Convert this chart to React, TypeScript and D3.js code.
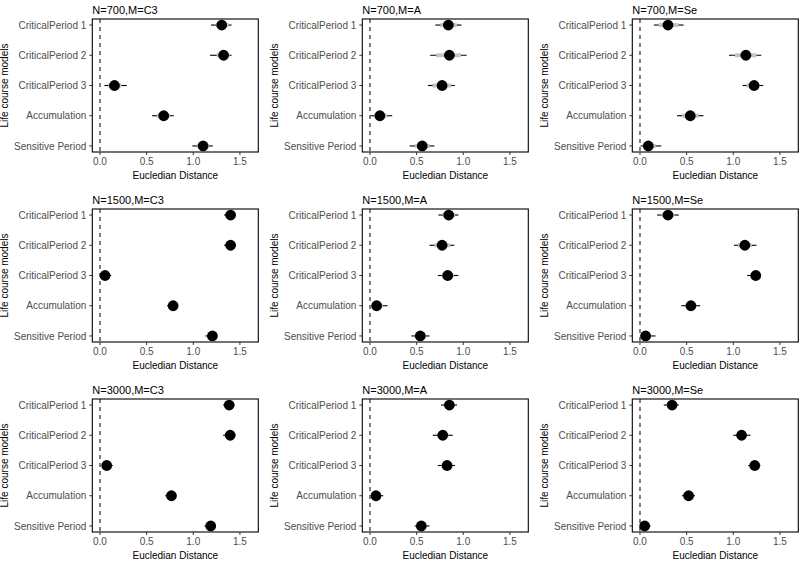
import React from "react";
import * as d3 from "d3";

const models = ["CriticalPeriod 1", "CriticalPeriod 2", "CriticalPeriod 3", "Accumulation", "Sensitive Period"];
const sampleSizes = ["700", "1500", "3000"];
const methods = ["C3", "A", "Se"];
const xTicks = [0, 0.5, 1.0, 1.5];

// each row: [estimate, outer low, outer high, inner low, inner high]
const n700_C3 = [
  [1.305, 1.19, 1.41, 1.24, 1.38],
  [1.325, 1.18, 1.41, 1.25, 1.39],
  [0.155, 0.047, 0.288, 0.09, 0.23],
  [0.683, 0.558, 0.79, 0.61, 0.75],
  [1.105, 0.99, 1.21, 1.04, 1.17],
];
const n700_A = [
  [0.84, 0.7, 0.98, 0.755, 0.93],
  [0.851, 0.645, 1.035, 0.71, 0.975],
  [0.773, 0.62, 0.91, 0.67, 0.87],
  [0.106, 0.007, 0.238, 0.046, 0.188],
  [0.56, 0.425, 0.69, 0.48, 0.64],
];
const n700_Se = [
  [0.3, 0.149, 0.468, 0.2, 0.415],
  [1.135, 0.954, 1.3, 1.017, 1.248],
  [1.223, 1.1, 1.32, 1.14, 1.28],
  [0.539, 0.397, 0.68, 0.45, 0.63],
  [0.089, 0.007, 0.227, 0.035, 0.167],
];
const n1500_C3 = [
  [1.4, 1.33, 1.44, 1.37, 1.43],
  [1.4, 1.33, 1.44, 1.37, 1.43],
  [0.054, 0.0, 0.12, 0.03, 0.09],
  [0.784, 0.72, 0.83, 0.75, 0.81],
  [1.205, 1.13, 1.25, 1.17, 1.23],
];
const n1500_A = [
  [0.844, 0.734, 0.947, 0.78, 0.91],
  [0.773, 0.638, 0.904, 0.69, 0.86],
  [0.833, 0.727, 0.947, 0.77, 0.9],
  [0.071, 0.018, 0.188, 0.04, 0.14],
  [0.539, 0.443, 0.638, 0.48, 0.6],
];
const n1500_Se = [
  [0.3, 0.184, 0.415, 0.23, 0.37],
  [1.124, 1.007, 1.248, 1.05, 1.2],
  [1.241, 1.149, 1.29, 1.19, 1.27],
  [0.546, 0.443, 0.645, 0.49, 0.6],
  [0.06, 0.007, 0.167, 0.03, 0.12],
];
const n3000_C3 = [
  [1.385, 1.32, 1.44, 1.35, 1.42],
  [1.396, 1.32, 1.44, 1.36, 1.43],
  [0.072, 0.018, 0.137, 0.04, 0.1],
  [0.766, 0.7, 0.817, 0.73, 0.8],
  [1.187, 1.12, 1.24, 1.15, 1.22],
];
const n3000_A = [
  [0.851, 0.762, 0.933, 0.8, 0.9],
  [0.78, 0.674, 0.887, 0.72, 0.84],
  [0.826, 0.727, 0.911, 0.77, 0.88],
  [0.064, 0.01, 0.142, 0.03, 0.1],
  [0.55, 0.479, 0.638, 0.51, 0.6],
];
const n3000_Se = [
  [0.344, 0.255, 0.415, 0.29, 0.39],
  [1.089, 1.0, 1.184, 1.04, 1.14],
  [1.23, 1.16, 1.29, 1.19, 1.27],
  [0.521, 0.45, 0.59, 0.48, 0.56],
  [0.05, 0.007, 0.113, 0.02, 0.08],
];

const panelData = [
  [n700_C3, n700_A, n700_Se],
  [n1500_C3, n1500_A, n1500_Se],
  [n3000_C3, n3000_A, n3000_Se],
];

const FONT = "'Liberation Sans', Arial, Helvetica, sans-serif";
const PANEL_W = 270;
const PANEL_H = 190;
const BOX = { left: 92.3, right: 258.3, top: 19, bottom: 152 };

const x = d3.scaleLinear().domain([-0.0825, 1.697]).range([BOX.left, BOX.right]);
const y = d3.scaleLinear().domain([0.8, 5.2]).range([BOX.bottom, BOX.top]);
const fmt = d3.format(".1f");

function Panel({ data, title, ox, oy }: { data: number[][]; title: string; ox: number; oy: number }) {
  const midX = (BOX.left + BOX.right) / 2;
  const midY = (BOX.top + BOX.bottom) / 2;
  return (
    <g transform={`translate(${ox},${oy})`}>
      <text x={BOX.left} y={14} fontSize={11} fill="#000" fontFamily={FONT}>
        {title}
      </text>
      <line x1={x(0)} x2={x(0)} y1={BOX.top} y2={BOX.bottom} stroke="#000" strokeWidth={1} strokeDasharray="4,4" />
      {data.map((d, i) => {
        const yy = y(models.length - i);
        return (
          <g key={i}>
            <line x1={x(d[1])} x2={x(d[2])} y1={yy} y2={yy} stroke="#000" strokeWidth={1.1} />
            <line x1={x(d[3])} x2={x(d[4])} y1={yy} y2={yy} stroke="#c4c4c4" strokeWidth={4} />
            <circle cx={x(d[0])} cy={yy} r={5.4} fill="#000" />
          </g>
        );
      })}
      <rect
        x={BOX.left}
        y={BOX.top}
        width={BOX.right - BOX.left}
        height={BOX.bottom - BOX.top}
        fill="none"
        stroke="#000"
        strokeWidth={1.1}
      />
      {xTicks.map((t) => (
        <g key={t}>
          <line x1={x(t)} x2={x(t)} y1={BOX.bottom} y2={BOX.bottom + 3} stroke="#333" strokeWidth={1} />
          <text x={x(t)} y={BOX.bottom + 13} fontSize={10} textAnchor="middle" fill="#4d4d4d" fontFamily={FONT}>
            {fmt(t)}
          </text>
        </g>
      ))}
      <text x={midX} y={BOX.bottom + 27} fontSize={10} textAnchor="middle" fill="#000" fontFamily={FONT}>
        Eucledian Distance
      </text>
      {models.map((m, i) => {
        const yy = y(models.length - i);
        return (
          <g key={m}>
            <line x1={BOX.left - 3} x2={BOX.left} y1={yy} y2={yy} stroke="#333" strokeWidth={1} />
            <text x={BOX.left - 6} y={yy + 3.6} fontSize={10} textAnchor="end" fill="#4d4d4d" fontFamily={FONT}>
              {m}
            </text>
          </g>
        );
      })}
      <text
        transform={`translate(${7.5},${midY}) rotate(-90)`}
        fontSize={10}
        textAnchor="middle"
        fill="#000"
        fontFamily={FONT}
      >
        Life course models
      </text>
    </g>
  );
}

export default function App() {
  return (
    <svg
      width={800}
      height={562}
      style={{ position: "absolute", left: 0, top: 0, background: "#fff" }}
      xmlns="http://www.w3.org/2000/svg"
    >
      <rect width={800} height={562} fill="#fff" />
      {sampleSizes.map((n, r) =>
        methods.map((m, c) => (
          <Panel
            key={`${n}-${m}`}
            data={panelData[r][c]}
            title={`N=${n},M=${m}`}
            ox={c * PANEL_W}
            oy={r * PANEL_H}
          />
        ))
      )}
    </svg>
  );
}
